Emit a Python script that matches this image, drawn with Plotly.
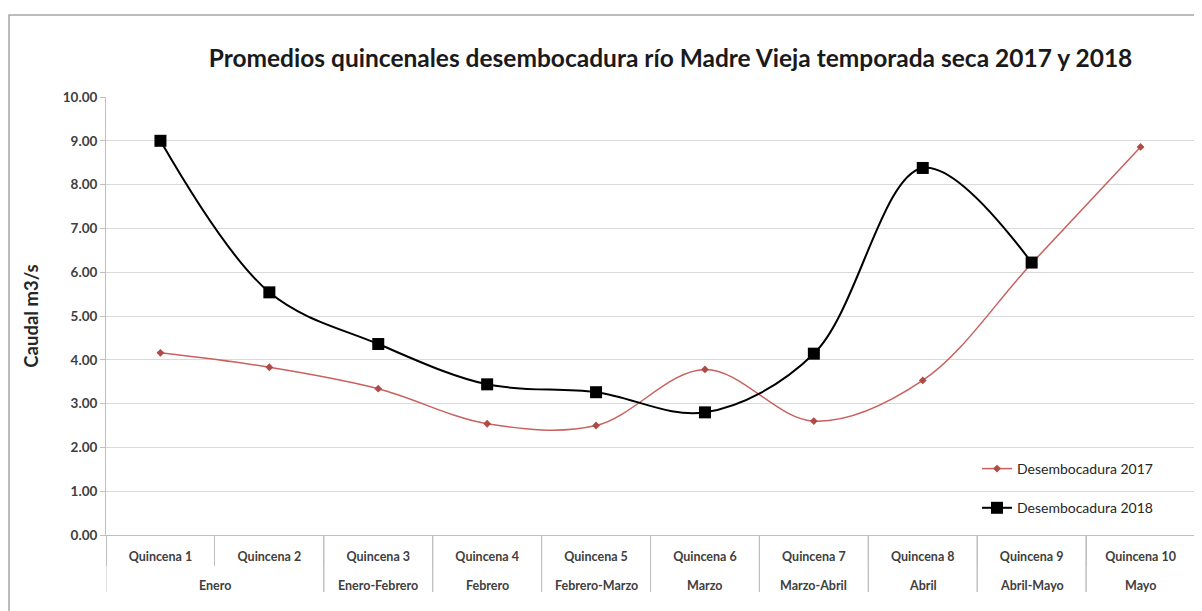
import plotly.graph_objects as go

months = ["Enero", "Enero", "Enero-Febrero", "Febrero", "Febrero-Marzo", "Marzo",
          "Marzo-Abril", "Abril", "Abril-Mayo", "Mayo"]
quincenas = ["Quincena 1", "Quincena 2", "Quincena 3", "Quincena 4", "Quincena 5",
             "Quincena 6", "Quincena 7", "Quincena 8", "Quincena 9", "Quincena 10"]
des_2017 = [4.16, 3.83, 3.34, 2.54, 2.50, 3.78, 2.60, 3.53, 6.20, 8.86]
des_2018 = [9.00, 5.54, 4.36, 3.44, 3.26, 2.80, 4.14, 8.38, 6.22, None]

fig = go.Figure()
fig.add_trace(go.Scatter(
    x=quincenas, y=des_2017, name="Desembocadura 2017", mode="lines+markers",
    line=dict(color="#C9605D", width=1.5, shape="spline", smoothing=1),
    marker=dict(symbol="diamond", size=6, color="#B04A47"),
    legendgroup="a"))
fig.add_trace(go.Scatter(
    x=quincenas, y=des_2018, name="Desembocadura 2018", mode="lines+markers",
    line=dict(color="#000000", width=2, shape="spline", smoothing=1),
    marker=dict(symbol="square", size=12, color="#000000"),
    legendgroup="b"))

W, H = 1202, 611
OFF = 8  # page body margin offset
L, R = 106 - OFF, 1202 - (1195 - OFF)
T, B = 97 - OFF, 611 - (535 - OFF)
pw, ph = W - L - R, H - T - B

def px(xr):
    return ((xr - OFF) - L) / pw

def py(yr):
    return ((H - B) - (yr - OFF)) / ph

# month group spans built from the months list
groups = []
start = 0
for i in range(1, len(months) + 1):
    if i == len(months) or months[i] != months[start]:
        groups.append((months[start], start, i - 1))
        start = i

shapes = [dict(type="rect", xref="paper", yref="paper",
               x0=px(9), x1=px(1195), y0=py(640), y1=py(15),
               line=dict(color="#A6A6A6", width=1.5), layer="below")]
annotations = []
for name, a, b in groups:
    for xb in (a - 0.5, b + 0.5):
        shapes.append(dict(type="line", xref="x", yref="paper", x0=xb, x1=xb,
                           y0=0, y1=py(592), line=dict(color="#BFBFBF", width=1)))
    annotations.append(dict(x=(a + b) / 2, xref="x", y=py(585), yref="paper",
                            text=name, showarrow=False, yanchor="middle",
                            font=dict(size=12.5, color="#404040", weight="bold")))

fig.update_layout(
    width=W, height=H,
    margin=dict(l=L, r=R, t=T, b=B, autoexpand=False),
    paper_bgcolor="white", plot_bgcolor="white",
    font=dict(family="Lato, Carlito, Calibri, sans-serif", color="#404040"),
    title=dict(text="<b>Promedios quincenales desembocadura río Madre Vieja temporada seca 2017 y 2018</b>",
               x=px(670.5), xanchor="center", xref="paper", y=1 - (58 - OFF) / H, yanchor="middle",
               font=dict(size=24.5, color="#1a1a1a")),
    legend=dict(x=px(1158), xanchor="right", y=py(453), yanchor="top",
                bgcolor="rgba(0,0,0,0)", font=dict(size=14, color="#262626"),
                tracegroupgap=18, traceorder="grouped"),
    shapes=shapes,
    annotations=annotations,
    showlegend=True,
)
fig.update_xaxes(
    type="category", showgrid=False, showline=True, linecolor="#BFBFBF",
    ticks="outside", tickson="boundaries", ticklen=30, tickcolor="#BFBFBF",
    tickfont=dict(size=12.5, color="#404040", weight="bold"), ticklabelstandoff=10,
    automargin=False, range=[-0.5, 9.5],
)
fig.update_yaxes(
    range=[0, 10], dtick=1, tickformat=".2f", showgrid=True, gridcolor="#D9D9D9",
    gridwidth=1, showline=True, linecolor="#BFBFBF", ticks="outside", ticklen=5,
    tickcolor="#BFBFBF", tickfont=dict(size=13.5, color="#404040", weight="bold"), zeroline=False,
    title=dict(text="Caudal m3/s", font=dict(size=18.5, color="#262626", weight="bold"), standoff=19),
    automargin=False,
)

fig.write_html("out.html")
